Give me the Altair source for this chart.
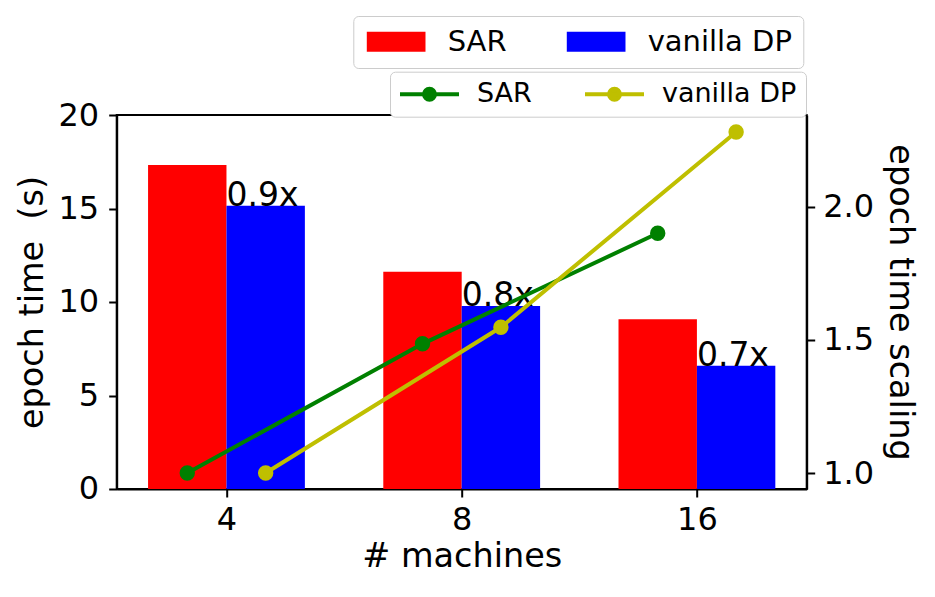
import altair as alt
import pandas as pd

# ---- data ----
machines = ["4", "8", "16"]
positions = [0, 1, 2]
series = ["SAR", "vanilla DP"]
sar_epoch_time = [17.33, 11.62, 9.08]
dp_epoch_time = [15.15, 9.79, 6.59]
sar_scaling = [1.0, 1.485, 1.90]
dp_scaling = [1.0, 1.547, 2.28]
ratio_labels = ["0.9x", "0.8x", "0.7x"]

bar_colors = ["#ff0000", "#0000ff"]
line_colors = ["#008000", "#bfbf00"]
bar_w = 1 / 3

rows = []
for i, p in enumerate(positions):
    rows.append(dict(pos=p, series=series[0], time=sar_epoch_time[i],
                     scaling=sar_scaling[i], side=0, label=""))
    rows.append(dict(pos=p, series=series[1], time=dp_epoch_time[i],
                     scaling=dp_scaling[i], side=1, label=ratio_labels[i]))
df = pd.DataFrame(rows)

FONT = "DejaVu Sans"
TICK_FS = 32
TITLE_FS = 33.5

base = alt.Chart(df).transform_calculate(
    x0=f"datum.pos + (datum.side - 1) * {bar_w}",
).transform_calculate(
    x1=f"datum.x0 + {bar_w}",
    xc=f"datum.x0 + {bar_w} / 2",
    line_series="datum.series",
    point_series="datum.series",
)

margin = 0.05 * (2 + 2 * bar_w)
xscale = alt.Scale(domain=[-bar_w - margin, 2 + bar_w + margin], nice=False, zero=False)
label_expr = "[" + ",".join(f"'{m}'" for m in machines) + "][datum.value]"
xaxis = alt.Axis(values=positions, labelExpr=label_expr, title="# machines",
                 labelFontSize=TICK_FS, titleFontSize=TITLE_FS, labelPadding=8,
                 titlePadding=5)

def xenc(field):
    return alt.X(f"{field}:Q", scale=xscale, axis=xaxis)

yleft_scale = alt.Scale(domain=[0, 20], nice=False, zero=True)
yleft_axis = alt.Axis(values=[0, 5, 10, 15, 20], title="epoch time\u00a0 (s)",
                      labelFontSize=TICK_FS, titleFontSize=TITLE_FS, labelPadding=10,
                      titlePadding=8)

yright_scale = alt.Scale(domain=[0.94, 2.344], nice=False, zero=False)
yright_axis = alt.Axis(orient="right", values=[1.0, 1.5, 2.0], format=".1f",
                       title="epoch time scaling", labelFontSize=TICK_FS,
                       titleFontSize=TITLE_FS, labelPadding=8, titlePadding=9)

# bar legend: nominal symbol 20px, path stretched to 58.7 x 20
bar_s = 20
bar_k = 58.7 / bar_s
bars = base.mark_bar().encode(
    x=xenc("x0"),
    x2="x1:Q",
    y=alt.Y("time:Q", scale=yleft_scale, axis=yleft_axis),
    y2=alt.datum(0),
    color=alt.Color(
        "series:N",
        scale=alt.Scale(domain=series, range=bar_colors),
        legend=alt.Legend(
            title=None, orient="none", direction="horizontal",
            legendX=236.6, legendY=-99,
            symbolType=f"M-{bar_k:.3f},-1H{bar_k:.3f}V1H-{bar_k:.3f}Z",
            symbolSize=bar_s ** 2, symbolOffset=(bar_k - 1) * bar_s / 2 - 2,
            symbolStrokeWidth=0, symbolOpacity=1,
            labelFontSize=29, labelFont=FONT, labelColor="black",
            labelOffset=37, columnPadding=57, padding=11,
            strokeColor="#cccccc", fillColor="white", cornerRadius=5,
        ),
    ),
)

texts = base.transform_filter("datum.label != ''").mark_text(
    align="left", baseline="alphabetic", fontSize=33, font=FONT, color="black"
).encode(
    x=xenc("x0"),
    y=alt.Y("time:Q", scale=yleft_scale, axis=yleft_axis),
    text="label:N",
)

left = alt.layer(bars, texts)

# line legend: nominal symbol 15px, line 59px wide with a filled circle
ln_s = 15
ln_k = 59 / ln_s
cr = 5.5 / (ln_s / 2)
line_symbol = (f"M-{ln_k:.3f},0H{ln_k:.3f}"
               f"M{cr:.3f},0A{cr:.3f},{cr:.3f},0,1,1,-{cr:.3f},0"
               f"A{cr:.3f},{cr:.3f},0,1,1,{cr:.3f},0Z")

line_legend = alt.Legend(
    title=None, orient="none", direction="horizontal",
    legendX=273.3, legendY=-43.3,
    symbolType=line_symbol, symbolSize=ln_s ** 2,
    symbolOffset=(ln_k - 1) * ln_s / 2 - 5,
    symbolStrokeWidth=4, symbolOpacity=1,
    labelFontSize=27, labelFont=FONT, labelColor="black",
    labelOffset=34, columnPadding=45, padding=9,
    strokeColor="#cccccc", fillColor="white", cornerRadius=5,
)

lines = base.mark_line(strokeWidth=4).encode(
    x=xenc("xc"),
    y=alt.Y("scaling:Q", scale=yright_scale, axis=yright_axis),
    color=alt.Color("line_series:N",
                    scale=alt.Scale(domain=series, range=line_colors), legend=None),
)

points = base.mark_point(size=180, opacity=1).encode(
    x=xenc("xc"),
    y=alt.Y("scaling:Q", scale=yright_scale, axis=yright_axis),
    fill=alt.Fill("point_series:N",
                  scale=alt.Scale(domain=series, range=line_colors), legend=line_legend),
    stroke=alt.Stroke("point_series:N",
                      scale=alt.Scale(domain=series, range=line_colors), legend=line_legend),
)

right = alt.layer(lines, points)

chart = alt.layer(left, right).resolve_scale(
    y="independent", color="independent"
).properties(
    width=690, height=374,
    padding={"left": 108.7, "top": 107, "right": 117, "bottom": 90},
    autosize=alt.AutoSizeParams(type="none"),
).configure(
    font=FONT,
).configure_axis(
    domainColor="black", domainWidth=2, tickColor="black", tickWidth=2,
    tickSize=8, grid=False, labelColor="black", titleColor="black",
    titleFontWeight="normal", labelFont=FONT, titleFont=FONT,
).configure_view(
    stroke="black", strokeWidth=2,
)

chart.save("out.html", embed_options={"renderer": "svg", "actions": False})
